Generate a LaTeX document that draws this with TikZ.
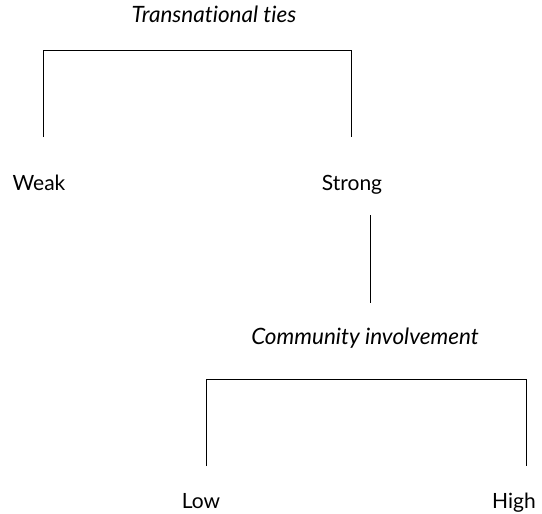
\documentclass[tikz,border=0pt]{standalone}
\usepackage{fontspec}
\setmainfont[Ligatures={NoCommon}]{Lato}
\usepackage{tikz}
\usetikzlibrary{positioning,calc}

\begin{document}
\begin{tikzpicture}[x=1pt,y=-1pt,line width=1pt,
    lbl/.style={font=\fontsize{21}{24}\selectfont,anchor=base,inner sep=0pt},
    head/.style={font=\fontsize{22.5}{26}\selectfont\itshape,anchor=base,inner sep=0pt}]
    \useasboundingbox (0,0) rectangle (542,514);
    % first split
    \node[head] (ties) at (214,23) {Transnational ties};
    \node[lbl] (weak) at (39,190) {Weak};
    \node[lbl] (strong) at (352,190) {Strong};
    \coordinate (ties-l) at (43,137);
    \coordinate (ties-r) at (351,137);
    \draw (ties-l) -- ++(0,-87) -| (ties-r);
    % link down
    \coordinate (link-t) at (370,215);
    \coordinate (link-b) at (370,303);
    \draw (link-t) -- (link-b);
    % second split
    \node[head] (comm) at (365,344) {Community involvement};
    \node[lbl] (low) at (201,508) {Low};
    \node[lbl] (high) at (514,508) {High};
    \coordinate (comm-l) at (206,466);
    \coordinate (comm-r) at (526,466);
    \draw (comm-l) -- ++(0,-87) -| (comm-r);
\end{tikzpicture}
\end{document}
